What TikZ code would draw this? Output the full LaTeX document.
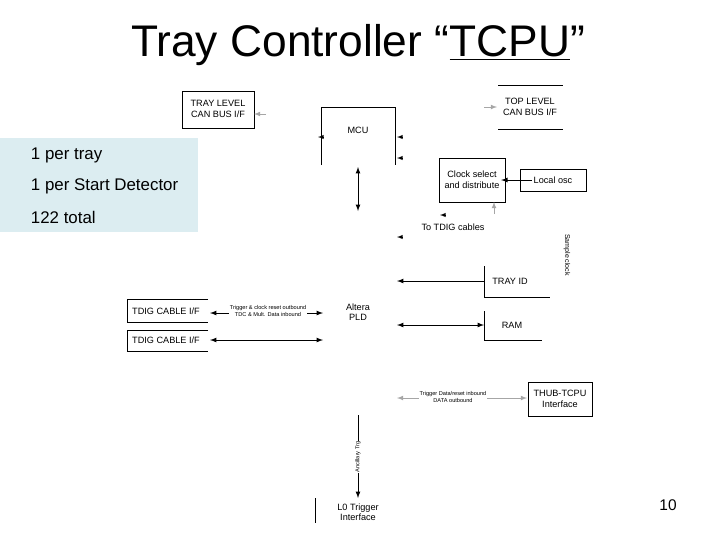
\documentclass[tikz,border=0pt]{standalone}
\usepackage{fontspec}
\setmainfont{Liberation Sans}
\usetikzlibrary{positioning}
\definecolor{notebg}{HTML}{DCEDF1}
\begin{document}
\begin{tikzpicture}[x=0.025cm,y=-0.025cm,>=latex,
  lbl/.style={font=\fontsize{6.5}{7.5}\selectfont,align=center,inner sep=1pt},
  tiny/.style={font=\fontsize{4}{4.5}\selectfont,align=center,inner sep=0.5pt},
  link/.style={line width=0.6pt},
  faint/.style={gray!70,line width=0.5pt}]
        \useasboundingbox (0,0) rectangle (720,540);
        % title and note
        \node (title) at (358,45) {\fontsize{31.5}{36}\selectfont Tray Controller “\underline{TCPU}”};
        \fill[notebg] (0,138) rectangle (198,232);
        \node[anchor=west] (n1) at (26,155) {\fontsize{12}{14}\selectfont 1 per tray};
        \node[anchor=west] (n2) at (26,186) {\fontsize{12}{14}\selectfont 1 per Start Detector};
        \node[anchor=west] (n3) at (26,217) {\fontsize{12}{14}\selectfont 122 total};
        \node (page) at (668,505) {\fontsize{11}{13}\selectfont 10};

        % blocks
        \draw (182,91) rectangle (254,128);
        \node[lbl] (tcan) at (218,109) {TRAY LEVEL\\CAN BUS I/F};
        \node[lbl] (topcan) at (530,107) {TOP LEVEL\\CAN BUS I/F};
        \draw (498,85) -- (563,85) (498,129) -- (563,129);
        \draw (321,165) -- (321,107) -- (395,107) -- (395,165);
        \node[lbl] (mcu) at (358,130) {MCU};
        \draw (439,158) rectangle (505,202);
        \node[lbl] (clk) at (472,180) {Clock select\\and distribute};
        \draw (520,169) rectangle (586,191);
        \node[lbl] (osc) at (553,180) {Local osc};
        \node[lbl] (totdig) at (453,227) {To TDIG cables};
        \node[tiny,rotate=-90,font=\fontsize{5}{6}\selectfont] (sclk) at (567,255) {Sample clock};
        \draw (484,266) -- (484,297) -- (550,297);
        \node[lbl] (trayid) at (510,281) {TRAY ID};
        \node[lbl] (pld) at (358,312) {Altera\\PLD};
        \draw (208,299) -- (127,299) -- (127,322) -- (208,322);
        \node[lbl] (tdig1) at (166,311) {TDIG CABLE I/F};
        \draw (208,330) -- (127,330) -- (127,351) -- (208,351);
        \node[lbl] (tdig2) at (166,340) {TDIG CABLE I/F};
        \draw (484,311) -- (484,340) -- (542,340);
        \node[lbl] (ram) at (512,325) {RAM};
        \draw (528,382) rectangle (592,416);
        \node[lbl] (thub) at (560,399) {THUB-TCPU\\Interface};
        \node[lbl] (l0) at (358,512) {L0 Trigger\\Interface};
        \draw (315,498) -- (315,523);

        % connector end points
        \coordinate (tcanr) at (254,114);
        \coordinate (tcang) at (266,114);
        \coordinate (topg) at (484,107);
        \coordinate (topl) at (497,107);
        \coordinate (busu) at (358,167);
        \coordinate (busd) at (358,211);
        \coordinate (clkb) at (494,202);
        \coordinate (clkg) at (494,214);
        \coordinate (idl) at (484,281);
        \coordinate (idr) at (397,281);
        \coordinate (t1a) at (210,313);
        \coordinate (t1b) at (323,313);
        \coordinate (t2a) at (210,340);
        \coordinate (t2b) at (323,340);
        \coordinate (rama) at (397,325);
        \coordinate (ramb) at (484,325);
        \coordinate (thba) at (397,398);
        \coordinate (thbb) at (527,398);
        \coordinate (anca) at (358,415);
        \coordinate (ancb) at (358,498);

        % connectors
        \draw[faint,->] (tcang) -- (tcanr);
        \draw[faint,->] (topg) -- (topl);
        \draw[link,<->] (busu) -- (busd);
        \draw[link,->] (osc) -- (clk);
        \draw[faint,->] (clkg) -- (clkb);
        \draw[link,->] (idl) -- (idr);
        \draw[link,<->] (t1a) -- (t1b);
        \node[tiny,fill=white] (t1l) at (268,311) {Trigger \& clock reset outbound\\TDC \& Mult. Data inbound};
        \draw[link,<->] (t2a) -- (t2b);
        \draw[link,<->] (rama) -- (ramb);
        \draw[faint,<->] (thba) -- (thbb);
        \node[tiny,fill=white] (thbl) at (453,397) {Trigger Data/reset inbound\\DATA outbound};
        \draw[link,->] (anca) -- (ancb);
        \node[tiny,fill=white,rotate=90] (ancl) at (358,457) {Ancillary Trg};
        % stub arrow heads
        \draw[->] (323,137) -- (318,137);
        \draw[->] (402,137) -- (397,137);
        \draw[->] (402,158) -- (397,158);
        \draw[->] (445,215) -- (440,215);
        \draw[->] (402,237) -- (397,237);
\end{tikzpicture}
\end{document}
